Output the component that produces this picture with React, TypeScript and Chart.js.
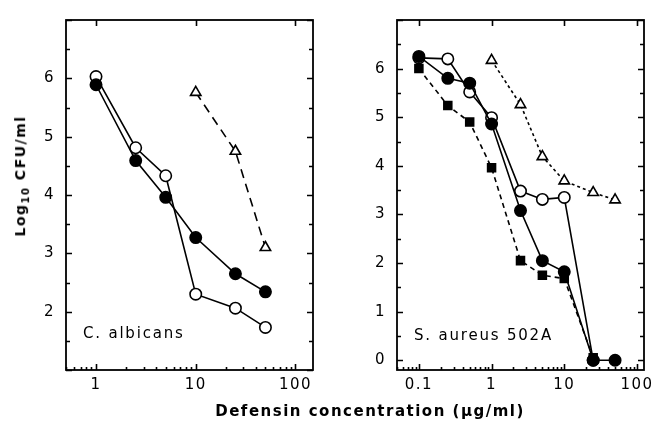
import React, { useEffect, useRef } from "react";
import { Chart, registerables } from "chart.js";

Chart.register(...registerables);

// ---- Data: C. albicans (left panel) ----
const albConc = [1, 2.5, 5, 10, 25, 50];
const albOpen = [6.03, 4.81, 4.33, 2.3, 2.06, 1.73];
const albFilled = [5.89, 4.59, 3.96, 3.27, 2.65, 2.34];
const albTriConc = [10, 25, 50];
const albTri = [5.76, 4.75, 3.1];

// ---- Data: S. aureus 502A (right panel) ----
const aurConc = [0.1, 0.25, 0.5, 1, 2.5, 5, 10, 25, 50];
const aurFilled = [6.25, 5.8, 5.7, 4.86, 3.08, 2.05, 1.82, 0.0, 0.0];
const aurOpen = [6.22, 6.2, 5.52, 4.99, 3.48, 3.31, 3.35, 0.0];
const aurSquare = [6.0, 5.24, 4.9, 3.96, 2.05, 1.75, 1.68, 0.05];
const aurTriConc = [1, 2.5, 5, 10, 25, 50];
const aurTri = [6.17, 5.26, 4.19, 3.69, 3.45, 3.3];

// ---- Tick labels ----
const albXTicks = [1, 10, 100];
const aurXTicks = [0.1, 1, 10, 100];
const albYTicks = [2, 3, 4, 5, 6];
const aurYTicks = [0, 1, 2, 3, 4, 5, 6];

const FONT = "'DejaVu Sans', sans-serif";

function pts(xs: number[], ys: number[]) {
  return ys.map((y, i) => ({ x: xs[i], y }));
}

const framePlugin = {
  id: "frame",
  beforeDraw(chart: any) {
    chart.ctx.letterSpacing = "1.5px";
  },
  afterDatasetsDraw(chart: any) {
    const { ctx, chartArea: a, scales } = chart;
    const xs = scales.x;
    const ys = scales.y;
    ctx.save();
    ctx.letterSpacing = "0px";
    ctx.strokeStyle = "#000";
    ctx.lineWidth = 1.6;
    ctx.setLineDash([]);
    ctx.beginPath();
    for (let v = Math.ceil(ys.min * 2) / 2; v <= ys.max + 1e-9; v += 0.5) {
      const py = Math.round(ys.getPixelForValue(v)) + 0.5;
      const len = Math.abs(v - Math.round(v)) < 1e-6 ? 6 : 4;
      ctx.moveTo(a.left, py);
      ctx.lineTo(a.left + len, py);
      ctx.moveTo(a.right, py);
      ctx.lineTo(a.right - len, py);
    }
    const dMin = Math.floor(Math.log10(xs.min));
    const dMax = Math.ceil(Math.log10(xs.max));
    for (let d = dMin; d <= dMax; d++) {
      for (let k = 1; k <= 9; k++) {
        const v = k * Math.pow(10, d);
        if (v < xs.min || v > xs.max) continue;
        const px = Math.round(xs.getPixelForValue(v)) + 0.5;
        const len = k === 1 ? 6 : 3;
        ctx.moveTo(px, a.bottom);
        ctx.lineTo(px, a.bottom - len);
        if (k === 1) {
          ctx.moveTo(px, a.top);
          ctx.lineTo(px, a.top + 6);
        }
      }
    }
    ctx.stroke();
    ctx.lineWidth = 1.8;
    ctx.strokeRect(a.left, a.top, a.right - a.left, a.bottom - a.top);
    ctx.restore();
  },
};

function makeConfig(opts: any): any {
  const { datasets, xMin, xMax, yMin, yMax, xTicks, yTicks, padRight, yWidth, xHeight } = opts;
  return {
    type: "line",
    data: { datasets },
    plugins: [framePlugin],
    options: {
      responsive: false,
      animation: false,
      events: [],
      layout: { padding: { left: 0, right: padRight, top: 7, bottom: 0 } },
      plugins: { legend: { display: false }, tooltip: { enabled: false } },
      scales: {
        x: {
          type: "logarithmic",
          min: xMin,
          max: xMax,
          grid: { display: false, drawTicks: false },
          border: { display: false },
          afterBuildTicks: (s: any) => {
            s.ticks = xTicks.map((v: number) => ({ value: v }));
          },
          afterFit: (s: any) => {
            s.height = xHeight;
          },
          ticks: {
            autoSkip: false,
            maxRotation: 0,
            padding: 6,
            color: "#000",
            font: { family: FONT, size: 15 },
            callback: (v: any) => String(v),
          },
        },
        y: {
          type: "linear",
          min: yMin,
          max: yMax,
          grid: { display: false, drawTicks: false },
          border: { display: false },
          afterBuildTicks: (s: any) => {
            s.ticks = yTicks.map((v: number) => ({ value: v }));
          },
          afterFit: (s: any) => {
            s.width = yWidth;
          },
          ticks: {
            autoSkip: false,
            padding: 11,
            color: "#000",
            font: { family: FONT, size: 15 },
            callback: (v: any) => String(v),
          },
        },
      },
    },
  };
}

const base = {
  borderColor: "#000",
  pointBorderColor: "#000",
  borderWidth: 1.6,
  pointBorderWidth: 1.6,
  tension: 0,
  fill: false,
};

function filledCircle(data: any[]) {
  return { ...base, data, pointStyle: "circle", pointRadius: 5.7, pointBackgroundColor: "#000" };
}
function openCircle(data: any[]) {
  return { ...base, data, pointStyle: "circle", pointRadius: 5.7, pointBackgroundColor: "#fff" };
}
function openTri(data: any[], dash: number[]) {
  return {
    ...base,
    data,
    borderDash: dash,
    pointStyle: "triangle",
    pointRadius: 6,
    pointBackgroundColor: "#fff",
  };
}
function filledSquare(data: any[], dash: number[]) {
  return {
    ...base,
    data,
    borderDash: dash,
    pointStyle: "rect",
    pointRadius: 5.6,
    pointBackgroundColor: "#000",
  };
}

export default function App() {
  const leftRef = useRef<HTMLCanvasElement>(null);
  const rightRef = useRef<HTMLCanvasElement>(null);

  useEffect(() => {
    const left = new Chart(
      leftRef.current as HTMLCanvasElement,
      makeConfig({
        datasets: [
          filledCircle(pts(albConc, albFilled)),
          openCircle(pts(albConc, albOpen)),
          openTri(pts(albTriConc, albTri), [9, 6]),
        ],
        xMin: 0.5,
        xMax: 150,
        yMin: 1,
        yMax: 7,
        xTicks: albXTicks,
        yTicks: albYTicks,
        padRight: 19,
        yWidth: 66,
        xHeight: 65,
      })
    );
    const right = new Chart(
      rightRef.current as HTMLCanvasElement,
      makeConfig({
        datasets: [
          filledCircle(pts(aurConc, aurFilled)),
          filledSquare(pts(aurConc, aurSquare), [5, 4]),
          openCircle(pts(aurConc, aurOpen)),
          openTri(pts(aurTriConc, aurTri), [3, 3]),
        ],
        xMin: 0.05,
        xMax: 125,
        yMin: -0.2,
        yMax: 7,
        xTicks: aurXTicks,
        yTicks: aurYTicks,
        padRight: 20,
        yWidth: 65,
        xHeight: 65,
      })
    );
    return () => {
      left.destroy();
      right.destroy();
    };
  }, []);

  const text: React.CSSProperties = {
    position: "absolute",
    fontFamily: FONT,
    color: "#000",
    whiteSpace: "nowrap",
    lineHeight: 1,
  };

  return (
    <div style={{ position: "absolute", left: 0, top: 0, width: 664, height: 435, background: "#fff" }}>
      <canvas ref={leftRef} width={332} height={435} style={{ position: "absolute", left: 0, top: 0 }} />
      <canvas ref={rightRef} width={332} height={435} style={{ position: "absolute", left: 332, top: 0 }} />
      <div
        style={{
          ...text,
          left: 22,
          top: 176,
          transform: "translate(-50%, -50%) rotate(-90deg)",
          fontSize: 14,
          fontWeight: "bold",
          letterSpacing: 1.5,
        }}
      >
        Log<sub style={{ fontSize: 10 }}>10</sub> CFU/ml
      </div>
      <div
        style={{
          ...text,
          left: 370,
          top: 411,
          transform: "translate(-50%, -50%)",
          fontSize: 15,
          fontWeight: "bold",
          letterSpacing: 1.5,
        }}
      >
        Defensin concentration (μg/ml)
      </div>
      <div style={{ ...text, left: 83, top: 333, transform: "translateY(-50%)", fontSize: 15, letterSpacing: 1.8 }}>
        C. albicans
      </div>
      <div style={{ ...text, left: 414, top: 335, transform: "translateY(-50%)", fontSize: 15, letterSpacing: 1.8 }}>
        S. aureus 502A
      </div>
    </div>
  );
}
